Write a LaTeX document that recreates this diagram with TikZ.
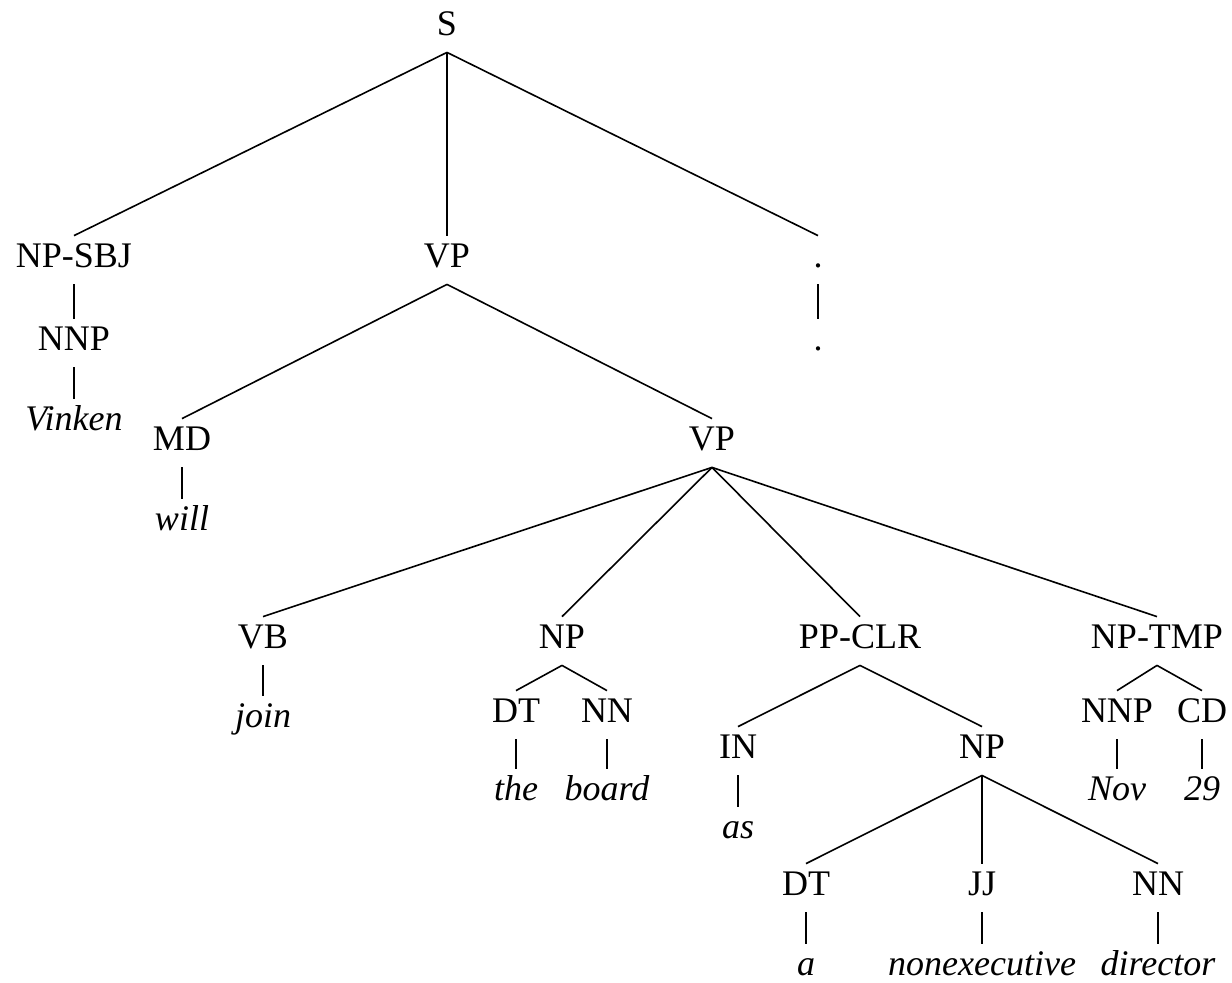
\documentclass[tikz,border=0pt]{standalone}
\usepackage{fontspec}
\setmainfont{Liberation Serif}
\begin{document}
\begin{tikzpicture}[x=0.5pt,y=-0.5pt,
  lab/.style={inner sep=0pt, text height=15.5pt, text depth=8.5pt, anchor=base, font=\fontsize{18}{20}\selectfont},
  word/.style={lab, font=\fontsize{18}{20}\selectfont\itshape},
  edge/.style={draw, line width=0.8pt}]
\useasboundingbox (0,0) rectangle (1232,982);
\node[lab] (S) at (447,35) {S};
\node[lab] (npsbj) at (74,267) {NP-SBJ};
\node[lab] (vp1) at (447,267) {VP};
\node[lab] (p1) at (818,267) {.};
\node[lab] (nnp1) at (74,350) {NNP};
\node[word] (vinken) at (74,430) {Vinken};
\node[lab] (p2) at (818,350) {.};
\node[lab] (md) at (182,450) {MD};
\node[word] (will) at (182,530) {will};
\node[lab] (vp2) at (712,450) {VP};
\node[lab] (vb) at (263,648) {VB};
\node[word] (join) at (263,727) {join};
\node[lab] (np1) at (562,648) {NP};
\node[lab] (dt1) at (516,722) {DT};
\node[lab] (nn1) at (607,722) {NN};
\node[word] (the) at (516,800) {the};
\node[word] (board) at (607,800) {board};
\node[lab] (ppclr) at (860,648) {PP-CLR};
\node[lab] (in) at (738,758) {IN};
\node[word] (as) at (738,838) {as};
\node[lab] (np2) at (982,758) {NP};
\node[lab] (dt2) at (806,895) {DT};
\node[lab] (jj) at (982,895) {JJ};
\node[lab] (nn2) at (1158,895) {NN};
\node[word] (a) at (806,975) {a};
\node[word] (nonexec) at (982,975) {nonexecutive};
\node[word] (director) at (1158,975) {director};
\node[lab] (nptmp) at (1157,648) {NP-TMP};
\node[lab] (nnp2) at (1117,722) {NNP};
\node[lab] (cd) at (1202,722) {CD};
\node[word] (nov) at (1117,800) {Nov};
\node[word] (n29) at (1202,800) {29};

\draw[edge] (S.south) -- (npsbj.north);
\draw[edge] (S.south) -- (vp1.north);
\draw[edge] (S.south) -- (p1.north);
\draw[edge] (npsbj.south) -- (nnp1.north);
\draw[edge] (nnp1.south) -- (vinken.north);
\draw[edge] (p1.south) -- (p2.north);
\draw[edge] (vp1.south) -- (md.north);
\draw[edge] (vp1.south) -- (vp2.north);
\draw[edge] (md.south) -- (will.north);
\draw[edge] (vp2.south) -- (vb.north);
\draw[edge] (vp2.south) -- (np1.north);
\draw[edge] (vp2.south) -- (ppclr.north);
\draw[edge] (vp2.south) -- (nptmp.north);
\draw[edge] (vb.south) -- (join.north);
\draw[edge] (np1.south) -- (dt1.north);
\draw[edge] (np1.south) -- (nn1.north);
\draw[edge] (dt1.south) -- (the.north);
\draw[edge] (nn1.south) -- (board.north);
\draw[edge] (ppclr.south) -- (in.north);
\draw[edge] (ppclr.south) -- (np2.north);
\draw[edge] (in.south) -- (as.north);
\draw[edge] (np2.south) -- (dt2.north);
\draw[edge] (np2.south) -- (jj.north);
\draw[edge] (np2.south) -- (nn2.north);
\draw[edge] (dt2.south) -- (a.north);
\draw[edge] (jj.south) -- (nonexec.north);
\draw[edge] (nn2.south) -- (director.north);
\draw[edge] (nptmp.south) -- (nnp2.north);
\draw[edge] (nptmp.south) -- (cd.north);
\draw[edge] (nnp2.south) -- (nov.north);
\draw[edge] (cd.south) -- (n29.north);
\end{tikzpicture}
\end{document}
